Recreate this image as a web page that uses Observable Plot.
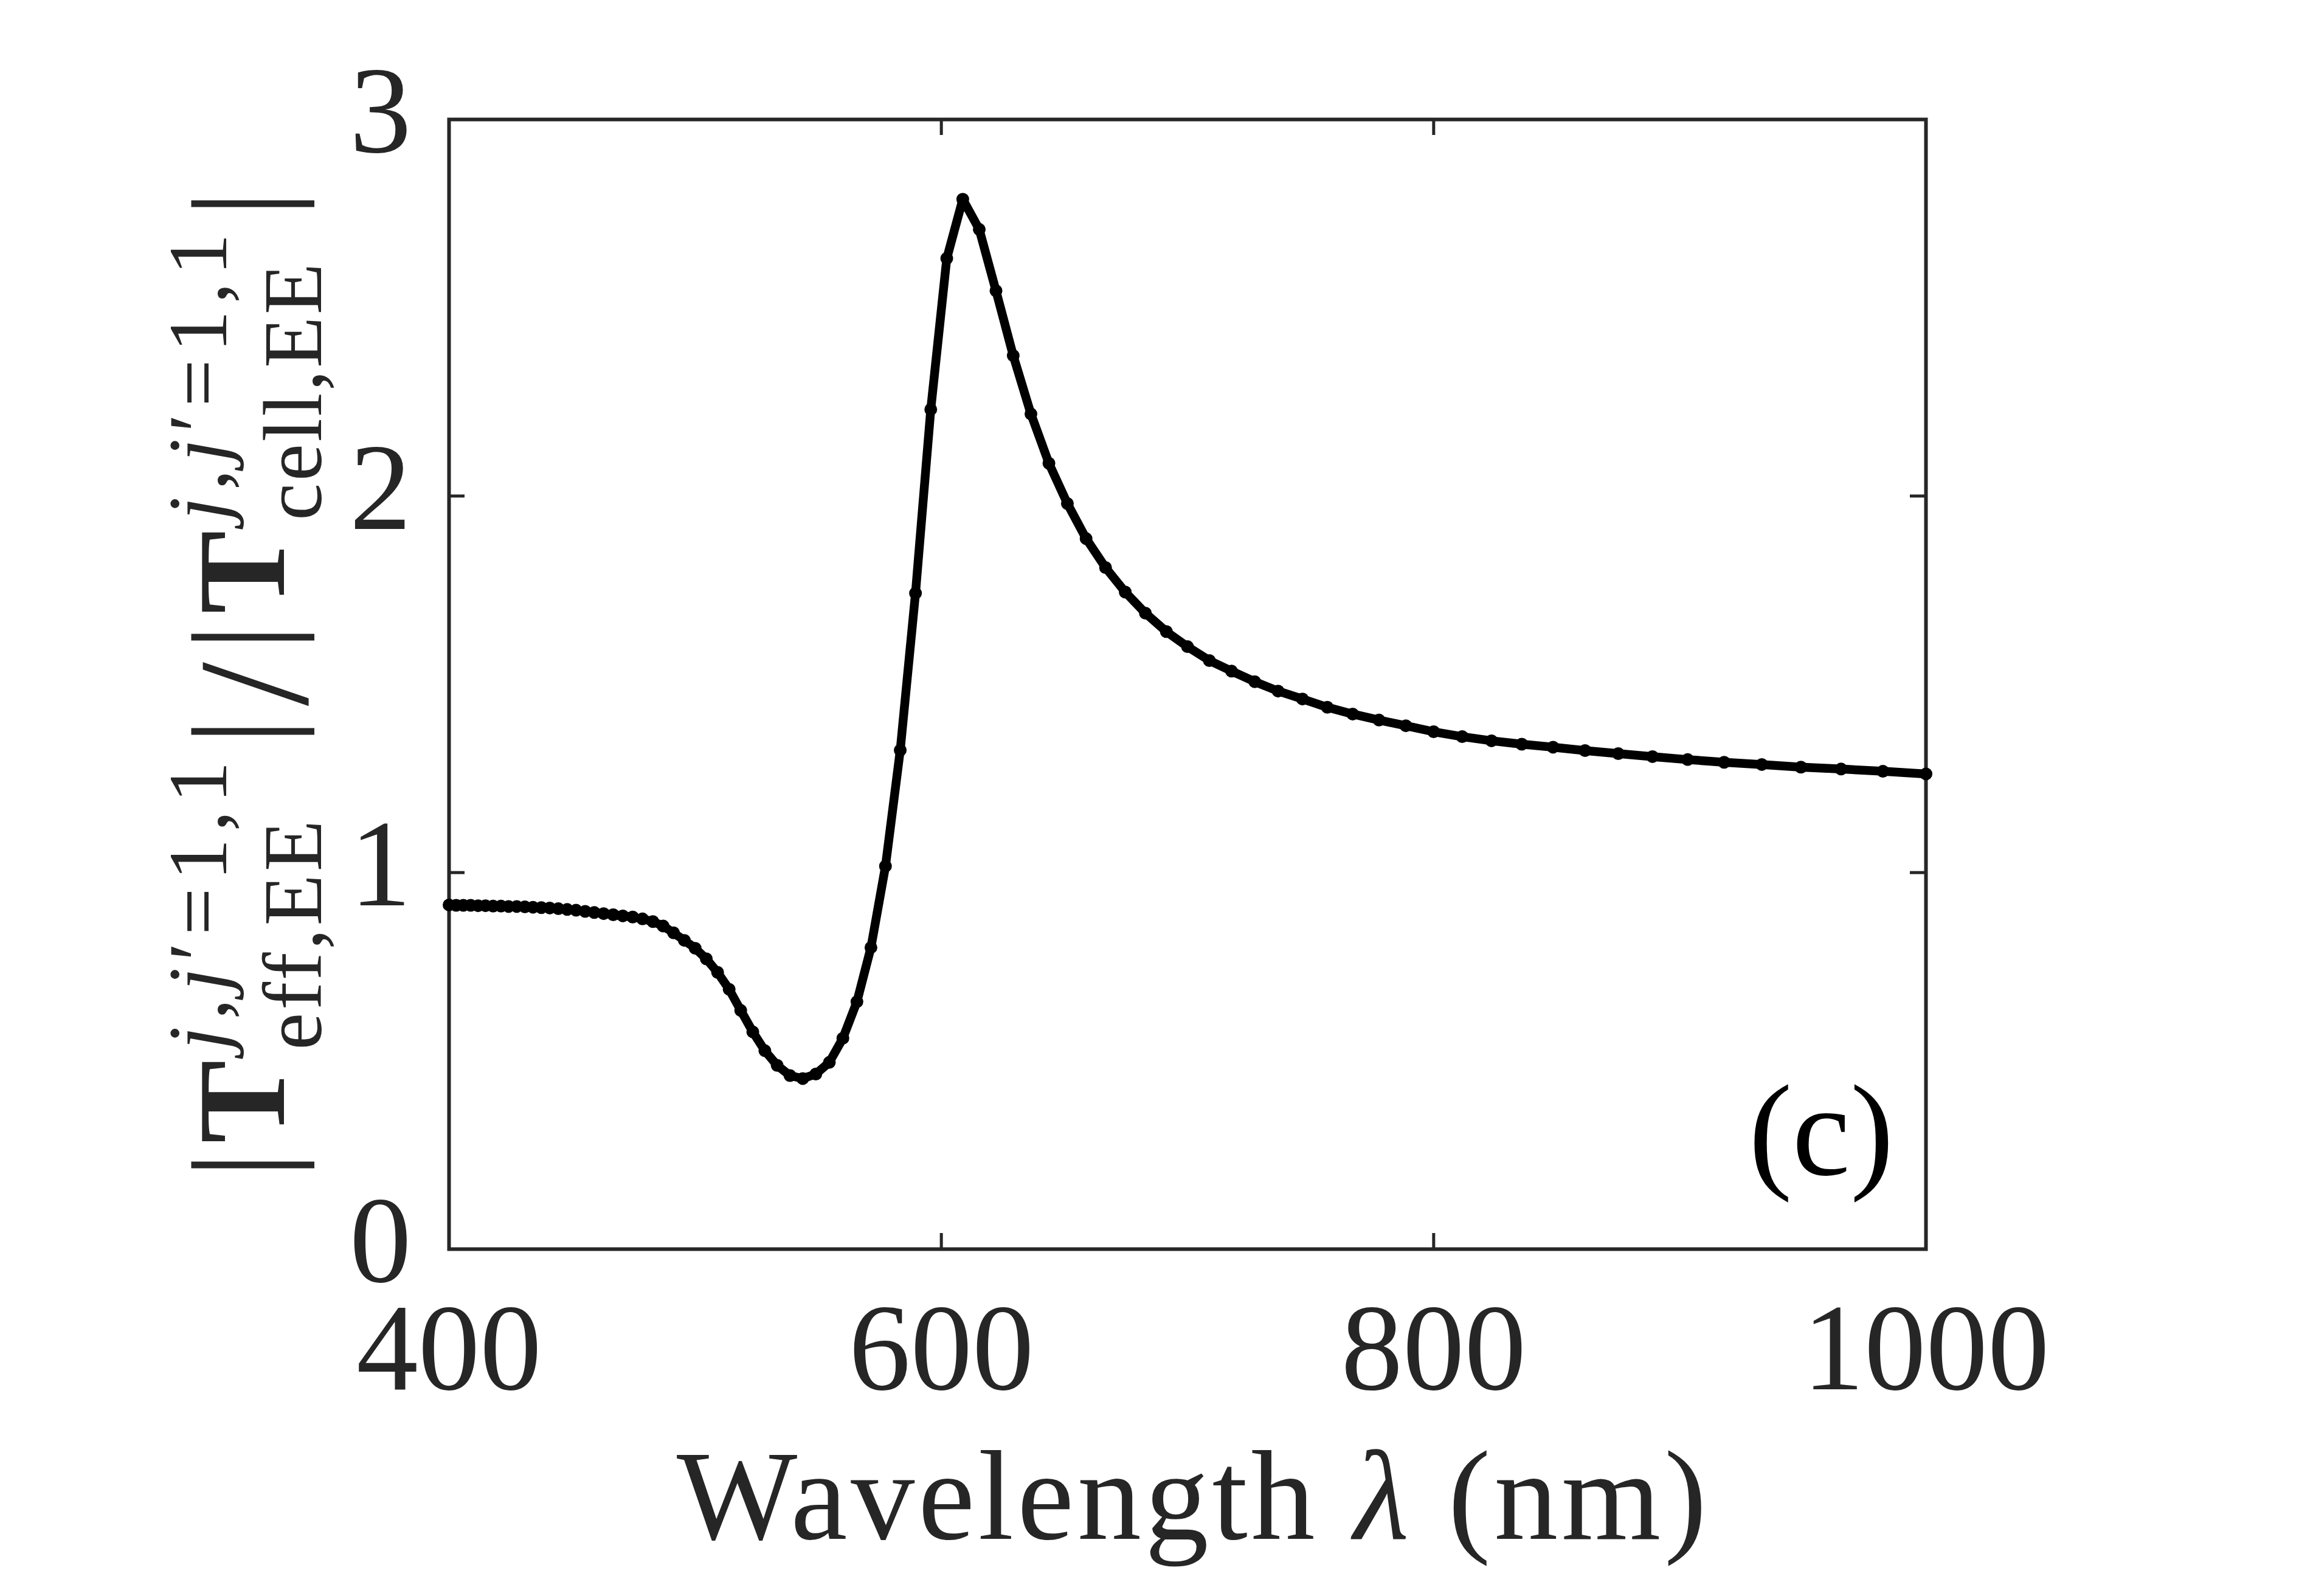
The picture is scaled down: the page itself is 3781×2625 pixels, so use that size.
<!DOCTYPE html>
<html><head><meta charset="utf-8">
<script src="https://cdn.jsdelivr.net/npm/d3@7"></script>
<script src="https://cdn.jsdelivr.net/npm/@observablehq/plot@0.6"></script>
<style>html,body{margin:0;padding:0;background:#fff;}</style>
</head><body>
<div id="chart"></div>
<script>
// Wavelength samples (nm)
const wavelength = [400.0, 402.9, 405.8, 408.8, 411.8, 414.8, 417.9, 421.1, 424.2, 427.5,
  430.8, 434.1, 437.5, 440.9, 444.4, 448.0, 451.6, 455.3, 459.0, 462.8,
  466.7, 470.6, 474.6, 478.6, 482.8, 487.0, 491.2, 495.6, 500.0, 504.5,
  509.1, 513.8, 518.5, 523.4, 528.3, 533.3, 538.5, 543.7, 549.0, 554.5,
  560.0, 565.7, 571.4, 577.3, 583.3, 589.5, 595.7, 602.2, 608.7, 615.4,
  622.2, 629.2, 636.4, 643.7, 651.2, 658.8, 666.7, 674.7, 682.9, 691.4,
  700.0, 708.9, 717.9, 727.3, 736.8, 746.7, 756.8, 767.1, 777.8, 788.7,
  800.0, 811.6, 823.5, 835.8, 848.5, 861.5, 875.0, 888.9, 903.2, 918.0,
  933.3, 949.2, 965.5, 982.5, 1000.0];
// |T_eff| / |T_cell| ratio
const ratio = [0.914, 0.913, 0.913, 0.913, 0.912, 0.912, 0.911, 0.911, 0.910, 0.910,
  0.909, 0.908, 0.907, 0.906, 0.904, 0.902, 0.900, 0.897, 0.894, 0.891,
  0.888, 0.885, 0.882, 0.877, 0.870, 0.858, 0.840, 0.820, 0.799, 0.771,
  0.735, 0.690, 0.634, 0.577, 0.527, 0.488, 0.461, 0.453, 0.465, 0.496,
  0.560, 0.657, 0.801, 1.017, 1.325, 1.742, 2.230, 2.631, 2.788, 2.708,
  2.545, 2.373, 2.218, 2.087, 1.980, 1.887, 1.810, 1.745, 1.689, 1.640,
  1.600, 1.563, 1.535, 1.507, 1.482, 1.461, 1.439, 1.421, 1.405, 1.390,
  1.374, 1.361, 1.350, 1.341, 1.333, 1.324, 1.316, 1.308, 1.300, 1.293,
  1.287, 1.280, 1.275, 1.269, 1.262];
const xTicks = [400, 600, 800, 1000];
const yTicks = [0, 1, 2, 3];
const panelLabel = "(c)";

const W = 3781, H = 2625;
const mL = 738, mR = 614, mT = 196, mB = 571;
const pw = W - mL - mR, ph = H - mT - mB;
const ink = "#262626";
const tickLen = 26;
const data = wavelength.map((x, i) => ({x, y: ratio[i]}));

const svg = Plot.plot({
  width: W, height: H,
  marginLeft: mL, marginRight: mR, marginTop: mT, marginBottom: mB,
  style: {fontFamily: "'Liberation Serif', serif", fontSize: "203px", color: ink, background: "#fff"},
  x: {domain: [400, 1000]},
  y: {domain: [0, 3]},
  marks: [
    Plot.axisX(xTicks, {tickSize: 0, tickPadding: 86, fontSize: 203, fill: ink, label: null, tickFormat: d => String(d)}),
    Plot.axisY(yTicks, {tickSize: 0, tickPadding: 62, dy: -11, fontSize: 203, fill: ink, label: null, tickFormat: d => String(d)}),
    Plot.tickX(xTicks, {x: d => d, insetTop: ph - tickLen, stroke: ink, strokeWidth: 5}),
    Plot.tickX(xTicks, {x: d => d, insetBottom: ph - tickLen, stroke: ink, strokeWidth: 5}),
    Plot.tickY(yTicks, {y: d => d, insetRight: pw - tickLen, stroke: ink, strokeWidth: 5}),
    Plot.tickY(yTicks, {y: d => d, insetLeft: pw - tickLen, stroke: ink, strokeWidth: 5}),
    Plot.frame({stroke: ink, strokeWidth: 6}),
    Plot.line(data, {x: "x", y: "y", stroke: "#000", strokeWidth: 14.5}),
    Plot.dot(data, {x: "x", y: "y", r: 10.5, fill: "#000"}),
    Plot.text([panelLabel], {frameAnchor: "bottom-right", text: d => d, dx: -53, dy: -123,
      textAnchor: "end", lineAnchor: "bottom", fontSize: 215, fill: "#000"})
  ]
});
document.getElementById("chart").appendChild(svg);

const s = d3.select(svg);
// x-axis label
const xl = s.append("text").attr("x", 1960).attr("y", 2531).attr("text-anchor", "middle")
  .attr("font-size", 210).attr("fill", ink).attr("textLength", 1694).attr("lengthAdjust", "spacing");
xl.append("tspan").text("Wavelength ");
xl.append("tspan").attr("font-style", "italic").text("λ");
xl.append("tspan").text(" (nm)");

// y-axis label (rotated), pieces placed along the vertical
const g = s.append("g").attr("transform", "rotate(-90)").attr("fill", ink);
function piece(txt, sy, bx, size, anchor, opts = {}) {
  const t = g.append("text").attr("x", -sy).attr("y", bx).attr("font-size", size)
    .attr("text-anchor", anchor);
  if (opts.bold) t.attr("font-weight", "bold");
  if (opts.len) t.attr("textLength", opts.len).attr("lengthAdjust", "spacing");
  if (Array.isArray(txt)) {
    txt.forEach(([str, it]) => { const sp = t.append("tspan").text(str); if (it) sp.attr("font-style", "italic"); });
  } else t.text(txt);
  return t;
}
const supParts = [["j", true], [",", false], ["j", true], ["′=1,1", false]];
piece("|", 1916, 469, 222, "middle");
piece("T", 1812, 467, 205, "middle", {bold: true});
piece(supParts, 1727, 372, 138, "start", {len: 475});
piece("eff,EE", 1727, 528, 138, "start", {len: 378});
piece("|", 1203, 469, 222, "middle");
piece("/", 1125, 505, 260, "middle");
piece("|", 1048, 469, 222, "middle");
piece("T", 941, 467, 205, "middle", {bold: true});
piece(supParts, 856, 372, 138, "start", {len: 472});
piece("cell,EE", 856, 528, 138, "start", {len: 423});
piece("|", 335, 469, 222, "middle");
</script>
</body></html>
